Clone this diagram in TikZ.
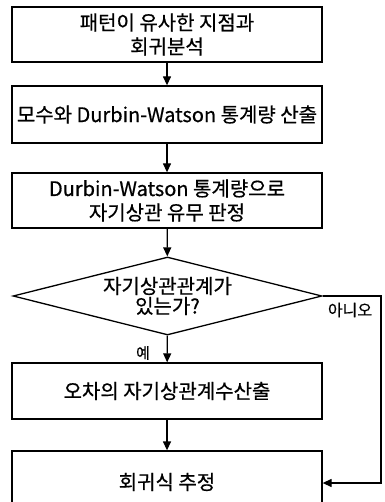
\documentclass[tikz,border=0pt]{standalone}
\usepackage{fontspec}
\setmainfont[FakeBold=0.6]{Noto Sans CJK KR}
\usetikzlibrary{shapes.geometric,arrows.meta}
\begin{document}
\begin{tikzpicture}[x=1pt,y=-1pt,
  box/.style={draw,line width=1.3pt,minimum width=310pt,inner sep=0pt,align=center,
    font=\fontsize{20}{24}\selectfont},
  dec/.style={draw,shape=diamond,line width=1.3pt,minimum width=309pt,minimum height=78pt,
    shape aspect=3.96,inner sep=0pt,align=center,font=\fontsize{20}{20}\selectfont},
  arr/.style={-{Triangle[length=9pt,width=8pt]},line width=1.3pt},
  lbl/.style={inner sep=0pt}]
\useasboundingbox (0,0) rectangle (384,502);
\clip (0,0) rectangle (384,502);
\node[box,minimum height=55pt] (b1) at (167,34.5) {패턴이 유사한 지점과\\회귀분석};
\node[box,minimum height=57pt] (b2) at (167,114.5) {모수와 Durbin-Watson 통계량 산출};
\node[box,minimum height=55pt] (b3) at (167,200.5) {Durbin-Watson 통계량으로\\자기상관 유무 판정};
\node[dec] (d) at (167.5,296) {자기상관관계가\\있는가?};
\node[box,minimum height=56pt] (b4) at (167,391) {오차의 자기상관계수산출};
\node[box,minimum height=62pt] (b5) at (167,482) {회귀식 추정};
\coordinate (nc) at (381,483);
\draw[arr] (b1) -- (b2);
\draw[arr] (b2) -- (b3);
\draw[arr] (b3) -- (d);
\draw[arr] (d) -- (b4);
\draw[arr] (b4) -- (b5);
\draw[arr] (d.east) -| (nc) -- (b5.east |- nc);
\node[lbl,font=\fontsize{16}{16}\selectfont] (no) at (350,310) {아니오};
\node[lbl,font=\fontsize{15}{15}\selectfont] (yes) at (143,353) {예};
\end{tikzpicture}
\end{document}
